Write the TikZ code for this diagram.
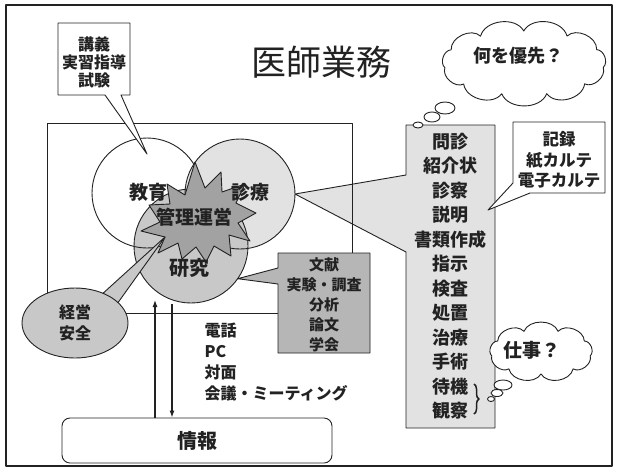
\documentclass[tikz,border=0pt]{standalone}
\usepackage{fontspec}
\setmainfont{Noto Sans CJK JP}
\usetikzlibrary{shapes.geometric,decorations.pathreplacing,arrows.meta}
\definecolor{ink}{HTML}{222222}
\definecolor{lightfill}{HTML}{E2E2E2}
\definecolor{midfill}{HTML}{C8C8C8}
\definecolor{darkfill}{HTML}{B6B6B6}
\definecolor{starfill}{HTML}{A2A2A2}
\begin{document}
\begin{tikzpicture}[x=1pt,y=-1pt,line join=round,
  line/.style={draw=ink,line width=0.9pt},
  circ/.style={circle,inner sep=0pt,outer sep=0pt,minimum size=110pt},
  lbl/.style={text=ink,font=\bfseries\fontsize{19}{19}\selectfont},
  bubble/.style={line,fill=white},
  puff/.style={bend left=68}]
\useasboundingbox (0,0) rectangle (617,472);
\fill[white] (0,0) rectangle (617,472);
% outer frame
\draw[ink,line width=1.6pt] (6,5) rectangle (612,466);
% title
\node[text=ink,font=\fontsize{35}{35}\selectfont] (title) at (321,62) {医師業務};

% circles (fills first)
\node[circ,fill=white] (kyoiku) at (147,193) {};
\node[circ,fill=lightfill] (shinryo) at (240,194) {};
\node[circ,fill=midfill,minimum size=114pt] (kenkyu) at (191,246) {};
\draw[line] (kyoiku.center) circle (55pt);
\draw[line] (shinryo.center) circle (55pt);
\draw[line] (kenkyu.center) circle (57pt);

% list callout
\draw[line,fill=lightfill] (406,125) -- (495,125) -- (495,428) -- (406,428)
   -- (406,252) -- (shinryo.east) -- (406,175) -- cycle;

% inner rectangle
\draw[line] (47,123) rectangle (352,313);

% star
\coordinate (startip) at (165,237);
\coordinate (startop) at (195,162);
\draw[line,fill=starfill] (startop) -- (205,188) -- (221,172) -- (222,192) -- (245,184)
  -- (236,203) -- (256,213) -- (238,223) -- (250,241) -- (229,235) -- (231,256)
  -- (214,246) -- (206,262) -- (196,247) -- (182,259) -- (178,243) -- (158,253)
  -- (startip) -- (141,231) -- (160,222) -- (149,205) -- (170,204) -- (167,184)
  -- (185,195) -- cycle;

% keiei callout
\draw[line,fill=midfill] (100,296) -- (startip) -- (117,304) -- cycle;
\node[ellipse,line,fill=midfill,minimum width=106pt,minimum height=70pt,inner sep=0pt,
  align=center,text=ink,font=\bfseries\fontsize{16}{21}\selectfont] (keiei) at (75,323) {経営\\安全};

% bunken callout
\draw[line,fill=darkfill] (278,253) -- (370,253) -- (370,353) -- (278,353) -- (278,284)
  -- (kenkyu.-35) -- (278,268) -- cycle;
\node[align=center,text=ink,font=\bfseries\fontsize{15}{20}\selectfont] (bunken) at (324,305)
  {文献\\実験・調査\\分析\\論文\\学会};

% kiroku callout
\coordinate (kirokutip) at (488,210);
\draw[line,fill=white] (513,122) -- (605,122) -- (605,193) -- (530,193) -- (kirokutip)
  -- (513,183) -- cycle;
\node[align=center,text=ink,font=\bfseries\fontsize{16.5}{20.5}\selectfont] (kiroku) at (559,160)
  {記録\\紙カルテ\\電子カルテ};

% list text
\node[align=center,text=ink,font=\bfseries\fontsize{18}{24.5}\selectfont] (list) at (450,276)
  {問診\\紹介状\\診察\\説明\\書類作成\\指示\\検査\\処置\\治療\\手術\\待機\\観察};
\draw[ink,line width=1.5pt,decorate,decoration={brace,amplitude=5pt}] (474,384) -- (474,414);

% cloud A
\foreach \i in {0,...,10}
  \coordinate (cA\i) at ({524+80*cos(\i*360/11+8)},{63+32*sin(\i*360/11+8)});
\draw[line,fill=white] (cA0) \foreach \i in {1,...,10} { to[puff] (cA\i) } to[puff] (cA0) -- cycle;
\node[text=ink,font=\bfseries\fontsize{18}{18}\selectfont] (cloudAtext) at (518,56) {何を優先？};
\draw[bubble] (445,108) ellipse [x radius=10, y radius=6];
\draw[bubble] (432,117) ellipse [x radius=8, y radius=5];
\draw[bubble] (418,125) ellipse [x radius=5, y radius=3];

% cloud B
\foreach \i in {0,...,8}
  \coordinate (cB\i) at ({541+50*cos(\i*40+10)},{352+22*sin(\i*40+10)});
\draw[line,fill=white] (cB0) \foreach \i in {1,...,8} { to[puff] (cB\i) } to[puff] (cB0) -- cycle;
\node[text=ink,font=\bfseries\fontsize{19}{19}\selectfont] (cloudBtext) at (532,350) {仕事？};
\draw[bubble] (503,385) ellipse [x radius=9, y radius=5];
\draw[bubble] (497,393) ellipse [x radius=6, y radius=3.5];
\draw[bubble] (491,399) ellipse [x radius=3.5, y radius=2.5];

% kogi callout
\coordinate (kogitip) at (147,154);
\draw[line,fill=white] (58,23) -- (130,23) -- (130,95) -- (121,95) -- (kogitip)
  -- (105,95) -- (58,95) -- cycle;
\node[align=center,text=ink,font=\bfseries\fontsize{16}{18}\selectfont] (kogi) at (94,62)
  {講義\\実習指導\\試験};

% joho box
\node[line,fill=white,rounded corners=8pt,minimum width=270pt,minimum height=45pt,
  text=ink,font=\bfseries\fontsize{20}{20}\selectfont] (joho) at (197,440.5) {情報};
\coordinate (upA) at (155,300);
\coordinate (dnA) at (172,304);
\draw[draw=ink,line width=1.1pt,-{Latex[length=7pt,width=5pt]}] (joho.north -| upA) -- (upA);
\draw[draw=ink,line width=1.1pt,-{Latex[length=7pt,width=5pt]}] (dnA) -- (joho.north -| dnA);

% comm text
\node[anchor=west,align=left,text=ink,font=\bfseries\fontsize{16}{21}\selectfont] (comm) at (201,362)
  {電話\\PC\\対面\\会議・ミーティング};

% circle labels
\node[lbl] (kyoikutext) at (148,192) {教育};
\node[lbl] (shinryotext) at (250,192) {診療};
\node[lbl] (kanritext) at (194,217) {管理運営};
\node[lbl,font=\bfseries\fontsize{20}{20}\selectfont] (kenkyutext) at (189,268) {研究};
\end{tikzpicture}
\end{document}
